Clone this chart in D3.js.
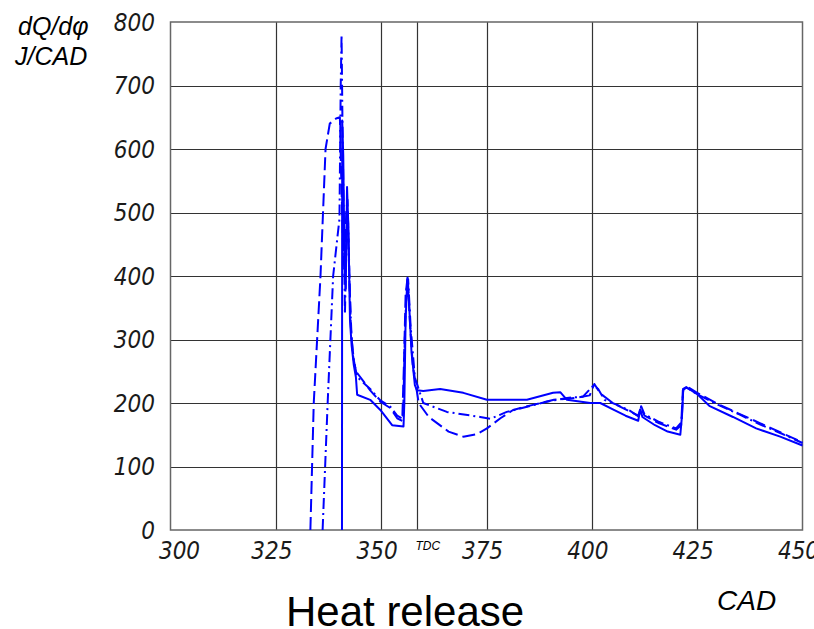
<!DOCTYPE html>
<html>
<head>
<meta charset="utf-8">
<script src="https://cdn.jsdelivr.net/npm/d3@7"></script>
<style>
    body { margin: 0; background: #fff; }
    .tick-label {
        font-family: "DejaVu Sans Condensed", "DejaVu Sans", sans-serif;
        font-stretch: condensed;
        font-style: italic;
        font-size: 24px;
        fill: #1a1a1a;
    }
    .title { font-family: "Liberation Sans", Arial, sans-serif; fill: #000; }
</style>
</head>
<body>
<div id="chart"></div>
<script>
// ── Data (CAD, J/CAD) ────────────────────────────────────────────
const cadTicks = [300, 325, 350, 375, 400, 425, 450];
const heatTicks = [0, 100, 200, 300, 400, 500, 600, 700, 800];
const tdcCad = 358.6;

const solidCad = [340.7, 340.75, 341.0, 341.3, 341.6, 341.9, 342.2, 342.6, 343.0, 343.5, 344.0, 344.3, 347.4, 349.8, 352.6, 355.3, 355.5, 355.8, 356.2, 356.6, 357.2, 358.0, 358.5, 360, 364, 369.5, 375.1, 384.6, 390.8, 392.5, 394.1, 399.6, 402, 405, 408, 411, 411.5, 412, 415, 418, 421, 421.4, 421.7, 422.4, 425, 428, 433.5, 439, 444.7, 450];
const solidQ = [0, 645, 590, 420, 380, 540, 480, 330, 290, 260, 241, 213, 205, 189, 165, 163, 200, 330, 395, 360, 280, 228, 220, 219, 222, 216, 205, 205, 216, 217, 205, 200, 200, 190, 180, 172, 190, 178, 165, 155, 150, 180, 222, 225, 214, 195, 178, 160, 147, 133];

const dashCad = [333.2, 334, 335.6, 336.8, 337.8, 339.3, 340.2, 340.5, 340.9, 341.3, 341.7, 342.0, 342.4, 342.8, 343.3, 344.0, 347.4, 349.8, 352.2, 353.8, 355.0, 355.4, 355.8, 356.3, 356.8, 357.5, 358.9, 361.3, 366, 369.5, 372.7, 375.1, 378.3, 381.3, 386, 391, 396, 399.5, 400.6, 402, 405, 408, 411, 411.6, 412.5, 416, 420, 421.2, 421.6, 422.6, 425, 430, 435, 440, 445, 450];
const dashQ = [0, 200, 400, 600, 640, 648, 650, 560, 460, 400, 500, 520, 420, 320, 275, 250, 220, 202, 192, 176, 172, 260, 370, 400, 330, 260, 200, 178, 155, 147, 151, 160, 176, 189, 197, 205, 208, 212, 230, 215, 200, 190, 180, 193, 180, 168, 158, 165, 220, 226, 216, 198, 183, 168, 153, 138];

const dotCad = [336.1, 337.3, 338.6, 340.1, 340.4, 340.6, 340.8, 341.1, 341.4, 341.8, 342.1, 342.5, 343, 343.5, 344.3, 347.4, 349.8, 352.2, 353.8, 355.2, 355.6, 356.0, 356.4, 357, 358, 360, 365.6, 373.5, 375.9, 379.8, 384.6, 389.3, 394.1, 397.9, 400.4, 401.5, 403, 406, 409, 411.3, 411.7, 412.5, 416, 420, 421.3, 421.7, 422.5, 425, 430, 435, 440, 445, 450];
const dotQ = [0, 200, 400, 490, 700, 780, 650, 500, 340, 470, 500, 380, 300, 268, 241, 222, 204, 194, 180, 175, 300, 380, 395, 320, 240, 200, 186, 178, 175, 186, 194, 202, 208, 210, 228, 222, 205, 197, 188, 178, 195, 182, 170, 160, 170, 222, 224, 214, 197, 182, 166, 152, 137];

// ── Chart ────────────────────────────────────────────────────────
const width = 814, height = 629;
const plot = { left: 170.5, right: 802.5, top: 22, bottom: 530 };

const svg = d3.select("#chart")
    .append("svg")
    .attr("width", width)
    .attr("height", height);

const xScale = d3.scaleLinear().domain([300, 450]).range([plot.left, plot.right]);
const yScale = d3.scaleLinear().domain([0, 800]).range([plot.bottom, plot.top]);

// Grid lines
svg.append("g")
    .selectAll("line")
    .data(heatTicks.slice(1, -1))
    .join("line")
    .attr("x1", plot.left).attr("x2", plot.right)
    .attr("y1", d => Math.round(yScale(d)) + 0.5)
    .attr("y2", d => Math.round(yScale(d)) + 0.5)
    .attr("stroke", "#333").attr("stroke-width", 1.2);

svg.append("g")
    .selectAll("line")
    .data(cadTicks.slice(1, -1).concat([tdcCad]))
    .join("line")
    .attr("x1", d => Math.round(xScale(d)) + 0.5)
    .attr("x2", d => Math.round(xScale(d)) + 0.5)
    .attr("y1", plot.top).attr("y2", plot.bottom)
    .attr("stroke", "#333").attr("stroke-width", 1.2);

// Frame
svg.append("rect")
    .attr("x", plot.left).attr("y", plot.top)
    .attr("width", plot.right - plot.left)
    .attr("height", plot.bottom - plot.top)
    .attr("fill", "none")
    .attr("stroke", "#666")
    .attr("stroke-width", 1.5);

// Curves
const line = d3.line()
    .x(d => xScale(d[0]))
    .y(d => yScale(d[1]));

const series = [
    { cad: solidCad, q: solidQ, dash: null },
    { cad: dashCad, q: dashQ, dash: "13,5" },
    { cad: dotCad, q: dotQ, dash: "11,4,2,4" }
];

svg.append("g")
    .selectAll("path")
    .data(series)
    .join("path")
    .attr("d", s => line(d3.zip(s.cad, s.q)))
    .attr("fill", "none")
    .attr("stroke", "#0000ff")
    .attr("stroke-width", 2)
    .attr("stroke-linejoin", "round")
    .attr("stroke-dasharray", s => s.dash);

// Tick labels
svg.append("g")
    .selectAll("text")
    .data(heatTicks)
    .join("text")
    .attr("class", "tick-label")
    .attr("text-anchor", "end")
    .attr("x", 155)
    .attr("y", d => yScale(d))
    .attr("dy", "0.36em")
    .text(d => d);

svg.append("g")
    .selectAll("text")
    .data(cadTicks)
    .join("text")
    .attr("class", "tick-label")
    .attr("text-anchor", "middle")
    .attr("x", (d, i) => xScale(d) + (i === 0 ? 9 : -4))
    .attr("y", 559)
    .text(d => d);

svg.append("text")
    .text("TDC")
    .attr("x", xScale(tdcCad) - 2)
    .attr("y", 550)
    .attr("font-family", "Liberation Sans, Arial, sans-serif")
    .attr("font-style", "italic")
    .attr("font-size", 12);

// Axis titles
svg.append("text").attr("class", "title")
    .attr("x", 18).attr("y", 35)
    .attr("font-size", 25).attr("font-style", "italic")
    .text("dQ/dφ");

svg.append("text").attr("class", "title")
    .attr("x", 15).attr("y", 65)
    .attr("font-size", 25).attr("font-style", "italic")
    .text("J/CAD");

svg.append("text").attr("class", "title")
    .attr("x", 717).attr("y", 610)
    .attr("font-size", 28).attr("font-style", "italic")
    .text("CAD");

svg.append("text").attr("class", "title")
    .attr("x", 286).attr("y", 626)
    .attr("font-size", 42)
    .text("Heat release");
</script>
</body>
</html>
